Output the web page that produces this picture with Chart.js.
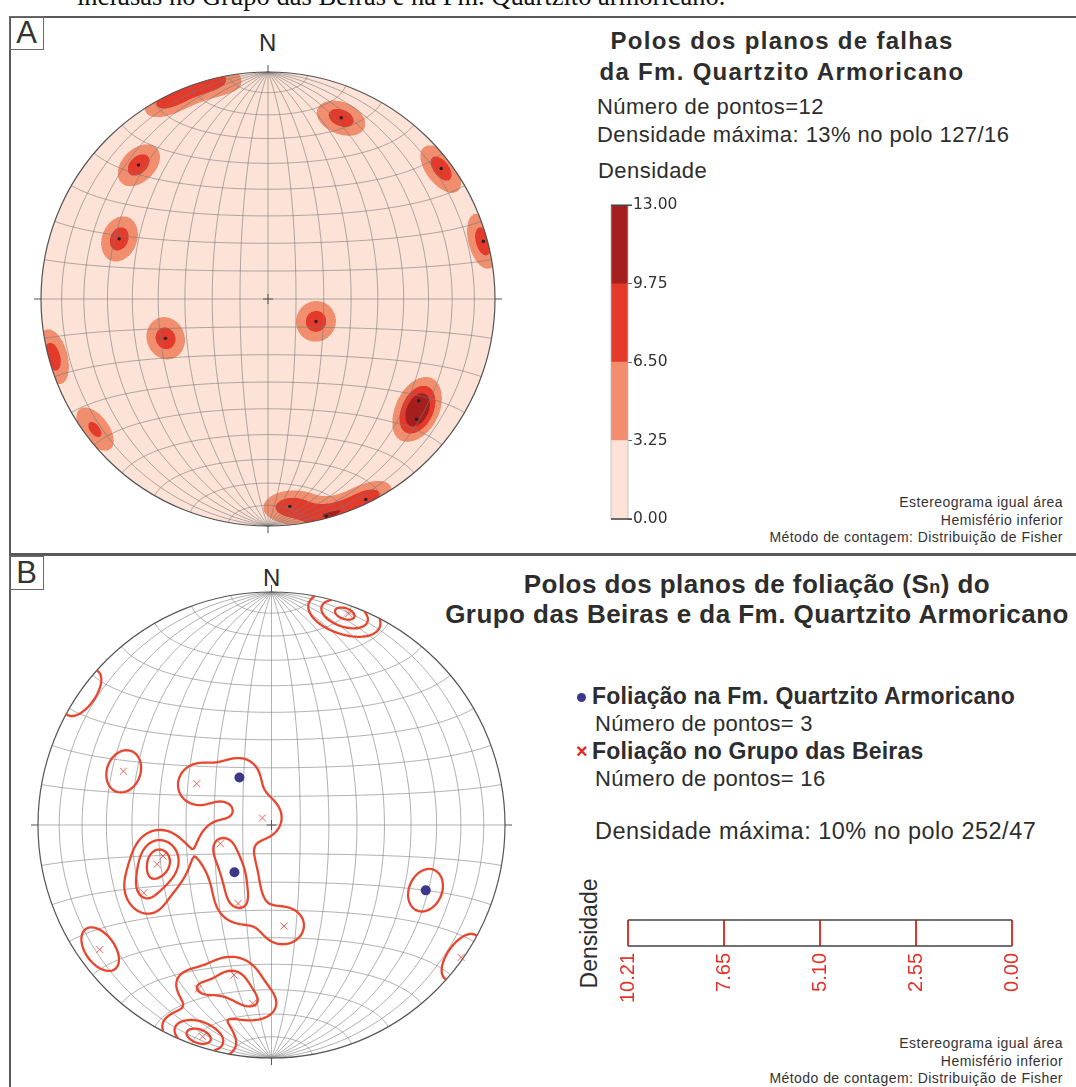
<!DOCTYPE html>
<html>
<head>
<meta charset="utf-8">
<script src="https://cdn.jsdelivr.net/npm/chart.js@4.4.0/dist/chart.umd.min.js"></script>
<style>
  body { margin: 0; width: 1076px; height: 1087px; position: relative; overflow: hidden; background: #fff;
         font-family: "Liberation Sans", Arial, sans-serif; color: #2d2d2d; }
  .t { position: absolute; white-space: nowrap; line-height: 1; }
  .b { font-weight: bold; }
  .line { position: absolute; background: #5a5a5a; }
  .box { position: absolute; border: 1px solid #6a6a6a; font-size: 31px; line-height: 32px; text-align: center; color: #333; }
  .foot { position: absolute; right: 13px; text-align: right; font-size: 14px; line-height: 17.5px; letter-spacing: 0.45px; color: #333; }
  canvas { position: absolute; }
</style>
</head>
<body>

<div class="t" style="left:77px; top:-17px; font-family:'Liberation Serif',serif; font-size:26.5px; color:#111;">inclusas no Grupo das Beiras e na Fm. Quartzito armoricano.</div>

<div class="line" style="left:9px; top:16px; width:1067px; height:2px;"></div>
<div class="line" style="left:9px; top:16px; width:2px; height:1071px;"></div>
<div class="line" style="left:9px; top:553px; width:1067px; height:3px;"></div>

<div class="box" style="left:9px; top:16px; width:33px; height:32px;">A</div>
<div class="box" style="left:9px; top:556px; width:33px; height:32px;">B</div>

<div class="t" style="left:259px; top:31px; font-size:24px;">N</div>
<div class="t" style="left:263px; top:566px; font-size:24px;">N</div>

<!-- painel A textos -->
<div class="t b" style="left:532px; width:500px; text-align:center; top:29px; font-size:24px; letter-spacing:1.3px;">Polos dos planos de falhas</div>
<div class="t b" style="left:532px; width:500px; text-align:center; top:60px; font-size:24px; letter-spacing:1.3px;">da Fm. Quartzito Armoricano</div>
<div class="t" style="left:597px; top:96px; font-size:22px; letter-spacing:0.45px;">Número de pontos=12</div>
<div class="t" style="left:597px; top:124px; font-size:22px; letter-spacing:0.45px;">Densidade máxima: 13% no polo 127/16</div>
<div class="t" style="left:598px; top:160px; font-size:22px; letter-spacing:0.45px;">Densidade</div>
<div class="foot" style="top:494px;">Estereograma igual área<br>Hemisfério inferior<br>Método de contagem: Distribuição de Fisher</div>

<!-- painel B textos -->
<div class="t b" style="left:457px; width:600px; text-align:center; top:571px; font-size:26px; letter-spacing:0.45px;">Polos dos planos de foliação (S<span style="font-size:18px">n</span>) do</div>
<div class="t b" style="left:432px; width:650px; text-align:center; top:601px; font-size:26px; letter-spacing:0.45px;">Grupo das Beiras e da Fm. Quartzito Armoricano</div>
<div style="position:absolute; left:577px; top:693px; width:9px; height:9px; border-radius:50%; background:#3d3789;"></div>
<div class="t b" style="left:592px; top:685px; font-size:23px; letter-spacing:0.2px;">Foliação na Fm. Quartzito Armoricano</div>
<div class="t" style="left:595px; top:713px; font-size:22px; letter-spacing:0.3px;">Número de pontos= 3</div>
<div class="t b" style="left:576px; top:741px; font-size:20px; color:#e0282a;">×</div>
<div class="t b" style="left:592px; top:740px; font-size:23px; letter-spacing:0.2px;">Foliação no Grupo das Beiras</div>
<div class="t" style="left:595px; top:768px; font-size:22px; letter-spacing:0.3px;">Número de pontos= 16</div>
<div class="t" style="left:595px; top:820px; font-size:23.5px; letter-spacing:0.5px;">Densidade máxima: 10% no polo 252/47</div>
<div class="t" style="left:534px; top:922px; width:110px; text-align:center; font-size:23px; transform:rotate(-90deg);">Densidade</div>
<div class="foot" style="top:1035px;">Estereograma igual área<br>Hemisfério inferior<br>Método de contagem: Distribuição de Fisher</div>

<canvas id="netA" width="540" height="553" style="left:0; top:0;"></canvas>
<canvas id="barA" width="80" height="335" style="left:600px; top:195px;"></canvas>
<canvas id="netB" width="540" height="531" style="left:0; top:556px;"></canvas>
<canvas id="scaleB" width="440" height="120" style="left:600px; top:905px;"></canvas>

<script>
// Painel A: polos dos planos de falhas (azimute / mergulho, graus)
const faultTrend  = [22, 316, 53, 292, 75, 115, 249, 124, 129, 174, 165, 154];
const faultPlunge = [15, 19, 5, 30, 2, 71, 50, 21, 17, 9, 1, 2];
const densityLevelsA = [0, 3.25, 6.5, 9.75, 13];
const densityColorsA = [[252, 226, 215], [240, 142, 110], [227, 58, 43], [166, 31, 31]];

// Painel B: Fm. Quartzito Armoricano (pontos) e Grupo das Beiras (cruzes)
const quartzTrend  = [326, 218, 113];
const quartzPlunge = [70, 69, 29];
const beirasTrend  = [290, 299, 308, 250, 254, 251, 242, 203, 173, 194, 204, 186, 125, 234, 20, 198];
const beirasPlunge = [33, 60, 86, 71, 50, 47, 38, 60, 54, 34, 24, 24, 1, 10, 4, 5];
const densityLevelsB = [0, 2.55, 5.10, 7.65, 10.21];

const D2R = Math.PI / 180;

function toVec(trend, plunge) {
  const t = trend * D2R, p = plunge * D2R;
  return [Math.cos(p) * Math.sin(t), Math.cos(p) * Math.cos(t), Math.sin(p)];
}

// projeccao de igual area, hemisferio inferior
function project(v) {
  let [e, n, d] = v;
  if (d < 0) { e = -e; n = -n; d = -d; }
  const h = Math.hypot(e, n);
  if (h < 1e-12) return { x: 0, y: 0 };
  const r = Math.SQRT2 * Math.sin(Math.acos(Math.min(1, d)) / 2);
  return { x: r * e / h, y: r * n / h };
}

function unproject(x, y) {
  let r = Math.hypot(x, y);
  if (r < 1e-12) return [0, 0, 1];
  if (r > 1) { x /= r; y /= r; r = 1; }
  const c = 2 * Math.asin(r / Math.SQRT2), s = Math.sin(c);
  return [s * x / r, s * y / r, Math.cos(c)];
}

// densidade tipo Fisher; polos quase horizontais reaparecem do lado oposto da primitiva
function makeDensity(trends, plunges, k, scale) {
  const terms = [];
  trends.forEach((t, i) => {
    const v = toVec(t, plunges[i]);
    terms.push([v, 1]);
    const w = Math.exp(-Math.pow(plunges[i] / 8, 4));
    if (w > 0.01) terms.push([[-v[0], -v[1], v[2]], w]);
  });
  return v => {
    let s = 0;
    for (const [p, w] of terms) {
      const c = v[0] * p[0] + v[1] * p[1] + v[2] * p[2];
      s += w * Math.exp(k * (c - 1));
    }
    return s * scale;
  };
}

function drawNet(chart, gridColor, rimColor) {
  const { ctx, scales: { x: xs, y: ys } } = chart;
  const px = p => xs.getPixelForValue(p.x), py = p => ys.getPixelForValue(p.y);
  const path = pts => { ctx.beginPath(); pts.forEach((p, i) => i ? ctx.lineTo(px(p), py(p)) : ctx.moveTo(px(p), py(p))); ctx.stroke(); };
  ctx.save();
  ctx.strokeStyle = gridColor;
  ctx.lineWidth = 0.8;
  for (let dip = 10; dip < 180; dip += 10) {
    const pts = [];
    for (let a = 0; a <= 180; a += 1) {
      pts.push(project([Math.sin(a * D2R) * Math.cos(dip * D2R), Math.cos(a * D2R), Math.sin(a * D2R) * Math.sin(dip * D2R)]));
    }
    path(pts);
  }
  for (let b = 10; b < 180; b += 10) {
    const pts = [];
    for (let f = 0; f <= 180; f += 1) {
      pts.push(project([Math.sin(b * D2R) * Math.cos(f * D2R), Math.cos(b * D2R), Math.sin(b * D2R) * Math.sin(f * D2R)]));
    }
    path(pts);
  }
  // primitiva e marcas N/S/E/W
  ctx.strokeStyle = rimColor;
  ctx.lineWidth = 1.2;
  const cx = xs.getPixelForValue(0), cy = ys.getPixelForValue(0);
  const rx = xs.getPixelForValue(1) - cx, ry = cy - ys.getPixelForValue(1);
  ctx.beginPath(); ctx.ellipse(cx, cy, rx, ry, 0, 0, 2 * Math.PI); ctx.stroke();
  ctx.lineWidth = 1;
  ctx.beginPath();
  ctx.moveTo(cx, cy - ry); ctx.lineTo(cx, cy - ry - 7);
  ctx.moveTo(cx, cy + ry); ctx.lineTo(cx, cy + ry + 7);
  ctx.moveTo(cx - rx, cy); ctx.lineTo(cx - rx - 7, cy);
  ctx.moveTo(cx + rx, cy); ctx.lineTo(cx + rx + 7, cy);
  ctx.moveTo(cx - 5, cy); ctx.lineTo(cx + 5, cy);
  ctx.moveTo(cx, cy - 5); ctx.lineTo(cx, cy + 5);
  ctx.stroke();
  ctx.restore();
}

function fillDensity(chart, dens, levels, colors) {
  const { ctx, chartArea: a, scales: { x: xs, y: ys } } = chart;
  const x0 = Math.floor(a.left), y0 = Math.floor(a.top);
  const w = Math.ceil(a.right) - x0 + 1, h = Math.ceil(a.bottom) - y0 + 1;
  const img = ctx.createImageData(w, h);
  const sub = [[0.25, 0.25], [0.75, 0.25], [0.25, 0.75], [0.75, 0.75]];
  for (let j = 0; j < h; j++) {
    for (let i = 0; i < w; i++) {
      let r = 0, g = 0, b = 0, n = 0;
      for (const [sx, sy] of sub) {
        const dx = xs.getValueForPixel(x0 + i + sx), dy = ys.getValueForPixel(y0 + j + sy);
        if (dx * dx + dy * dy > 1) continue;
        const d = dens(unproject(dx, dy));
        let li = 0;
        while (li < levels.length - 2 && d >= levels[li + 1]) li++;
        r += colors[li][0]; g += colors[li][1]; b += colors[li][2]; n++;
      }
      if (!n) continue;
      const k = (j * w + i) * 4;
      img.data[k] = r / n; img.data[k + 1] = g / n; img.data[k + 2] = b / n; img.data[k + 3] = 255 * n / 4;
    }
  }
  ctx.putImageData(img, x0, y0);
}

function drawContours(chart, dens, levels, color) {
  const { ctx, chartArea: a, scales: { x: xs, y: ys } } = chart;
  const step = 2;
  const nx = Math.ceil((a.right - a.left) / step) + 1, ny = Math.ceil((a.bottom - a.top) / step) + 1;
  const G = [];
  for (let j = 0; j < ny; j++) {
    const row = [];
    for (let i = 0; i < nx; i++) {
      row.push(dens(unproject(xs.getValueForPixel(a.left + i * step), ys.getValueForPixel(a.top + j * step))));
    }
    G.push(row);
  }
  const cx = xs.getPixelForValue(0), cy = ys.getPixelForValue(0);
  ctx.save();
  ctx.beginPath();
  ctx.ellipse(cx, cy, xs.getPixelForValue(1) - cx, cy - ys.getPixelForValue(1), 0, 0, 2 * Math.PI);
  ctx.clip();
  ctx.strokeStyle = color;
  ctx.lineWidth = 2.3;
  ctx.lineCap = 'round';
  ctx.lineJoin = 'round';
  ctx.beginPath();
  for (const L of levels) {
    for (let j = 0; j < ny - 1; j++) {
      for (let i = 0; i < nx - 1; i++) {
        const X = a.left + i * step, Y = a.top + j * step;
        const v = [G[j][i], G[j][i + 1], G[j + 1][i + 1], G[j + 1][i]];
        const c = [[X, Y], [X + step, Y], [X + step, Y + step], [X, Y + step]];
        const pts = [];
        for (let e = 0; e < 4; e++) {
          const v1 = v[e], v2 = v[(e + 1) % 4];
          if ((v1 - L) * (v2 - L) < 0) {
            const t = (L - v1) / (v2 - v1);
            const p1 = c[e], p2 = c[(e + 1) % 4];
            pts.push([p1[0] + t * (p2[0] - p1[0]), p1[1] + t * (p2[1] - p1[1])]);
          }
        }
        for (let q = 0; q + 1 < pts.length; q += 2) {
          ctx.moveTo(pts[q][0], pts[q][1]);
          ctx.lineTo(pts[q + 1][0], pts[q + 1][1]);
        }
      }
    }
  }
  ctx.stroke();
  ctx.restore();
}

const densA = makeDensity(faultTrend, faultPlunge, 120, 100 / faultTrend.length);
const densB = makeDensity(beirasTrend.concat(quartzTrend), beirasPlunge.concat(quartzPlunge), 88,
                          0.87 * 100 / (beirasTrend.length + quartzTrend.length));

const baseOpts = (padding) => ({
  responsive: false,
  animation: false,
  events: [],
  layout: { padding },
  scales: {
    x: { type: 'linear', min: -1, max: 1, display: false },
    y: { type: 'linear', min: -1, max: 1, display: false }
  },
  plugins: { legend: { display: false }, tooltip: { enabled: false } }
});

new Chart(document.getElementById('netA'), {
  type: 'scatter',
  data: {
    datasets: [{
      data: faultTrend.map((t, i) => project(toVec(t, faultPlunge[i]))),
      pointStyle: 'circle', pointRadius: 1.7, backgroundColor: '#222', borderWidth: 0
    }]
  },
  options: baseOpts({ left: 41, right: 45, top: 72, bottom: 27 }),
  plugins: [{
    id: 'stereoA',
    beforeDatasetsDraw(chart) {
      fillDensity(chart, densA, densityLevelsA, densityColorsA);
      drawNet(chart, 'rgba(120,120,120,0.75)', '#555');
    }
  }]
});

new Chart(document.getElementById('netB'), {
  type: 'scatter',
  data: {
    datasets: [
      {
        data: beirasTrend.map((t, i) => project(toVec(t, beirasPlunge[i]))),
        pointStyle: 'crossRot', pointRadius: 5, borderColor: 'rgba(236,70,58,0.85)', borderWidth: 1
      },
      {
        data: quartzTrend.map((t, i) => project(toVec(t, quartzPlunge[i]))),
        pointStyle: 'circle', pointRadius: 5, backgroundColor: '#3d3789', borderWidth: 0
      },
      {
        data: quartzTrend.map((t, i) => project(toVec(t, quartzPlunge[i]))),
        pointStyle: 'crossRot', pointRadius: 3.5, borderColor: '#e8402f', borderWidth: 1
      }
    ]
  },
  options: baseOpts({ left: 38, right: 35, top: 36, bottom: 29 }),
  plugins: [{
    id: 'stereoB',
    beforeDatasetsDraw(chart) {
      drawNet(chart, 'rgba(130,130,130,0.8)', '#555');
      drawContours(chart, densB, densityLevelsB.slice(1, 4), '#e9462f');
    }
  }]
});

// barra de cores do painel A
const barColors = densityColorsA.map(c => `rgb(${c[0]},${c[1]},${c[2]})`);
new Chart(document.getElementById('barA'), {
  type: 'bar',
  data: {
    labels: [''],
    datasets: densityLevelsA.slice(1).map((v, i) => ({
      data: [v - densityLevelsA[i]], backgroundColor: barColors[i],
      barPercentage: 1, categoryPercentage: 1, borderWidth: 0
    }))
  },
  options: {
    responsive: false, animation: false, events: [],
    layout: { padding: { left: 11, top: 10, bottom: 11, right: 0 } },
    scales: {
      x: { stacked: true, display: false },
      y: {
        stacked: true, position: 'right', min: 0, max: 13,
        afterBuildTicks: s => { s.ticks = densityLevelsA.map(v => ({ value: v })); },
        afterFit: s => { s.width = 52; },
        ticks: { callback: v => v.toFixed(2), color: '#333', font: { family: 'DejaVu Sans', size: 15.5 }, padding: 1 },
        grid: { drawOnChartArea: false, tickLength: 4, color: '#666' },
        border: { display: false }
      }
    },
    plugins: { legend: { display: false }, tooltip: { enabled: false } }
  },
  plugins: [{
    id: 'barEdges',
    afterDraw(chart) {
      const { ctx, chartArea: a } = chart;
      ctx.save();
      ctx.strokeStyle = '#bbb'; ctx.lineWidth = 0.8;
      ctx.strokeRect(a.left, a.top, a.right - a.left, a.bottom - a.top);
      ctx.strokeStyle = '#444'; ctx.lineWidth = 1.6;
      ctx.beginPath();
      ctx.moveTo(a.left, a.top); ctx.lineTo(a.right + 4, a.top);
      ctx.moveTo(a.left, a.bottom); ctx.lineTo(a.right + 4, a.bottom);
      ctx.stroke();
      ctx.restore();
    }
  }]
});

// escala de densidade do painel B
new Chart(document.getElementById('scaleB'), {
  type: 'scatter',
  data: { datasets: [] },
  options: {
    responsive: false, animation: false, events: [],
    layout: { padding: { left: 28, right: 28, top: 15, bottom: 0 } },
    scales: {
      x: {
        type: 'linear', reverse: true, min: 0, max: 10.21,
        afterBuildTicks: s => { s.ticks = densityLevelsB.map(v => ({ value: v })); },
        afterFit: s => { s.height = 79; },
        ticks: { autoSkip: false, minRotation: 90, maxRotation: 90, padding: 7, color: '#e5312a',
                 font: { family: 'Liberation Sans', size: 20 }, callback: v => v.toFixed(2) },
        grid: { color: '#e0352b', lineWidth: 2, drawTicks: false },
        border: { display: false }
      },
      y: { type: 'linear', min: 0, max: 1, display: false }
    },
    plugins: { legend: { display: false }, tooltip: { enabled: false } }
  },
  plugins: [{
    id: 'scaleBox',
    afterDraw(chart) {
      const { ctx, chartArea: a } = chart;
      ctx.save();
      ctx.strokeStyle = '#444'; ctx.lineWidth = 1.5;
      ctx.beginPath();
      ctx.moveTo(a.left, a.top); ctx.lineTo(a.right, a.top);
      ctx.moveTo(a.left, a.bottom); ctx.lineTo(a.right, a.bottom);
      ctx.stroke();
      ctx.restore();
    }
  }]
});
</script>
</body>
</html>
